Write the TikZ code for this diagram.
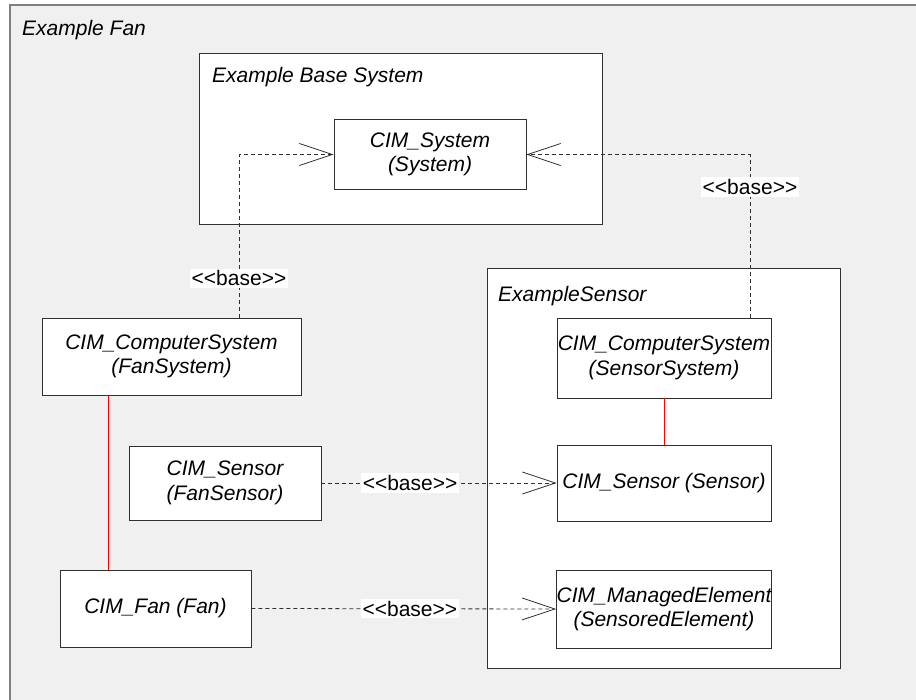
\documentclass[tikz,border=0pt]{standalone}
\usepackage{fontspec}
\setmainfont{Liberation Sans}
\usetikzlibrary{arrows.meta}
\definecolor{bggray}{HTML}{F0F0F0}
\definecolor{framegray}{HTML}{808080}
\definecolor{boxline}{HTML}{303030}
\newcommand{\basetxt}{\mbox{<}\mbox{<}base\mbox{>}\mbox{>}}
\tikzset{
  cls/.style={draw=boxline, fill=white, line width=0.9pt, align=center, inner sep=0pt,
    font=\fontsize{21}{24.5}\selectfont\itshape},
  container/.style={draw=boxline, fill=white, line width=0.9pt, inner sep=0pt},
  title/.style={anchor=west, inner sep=0pt, font=\fontsize{21}{24.5}\selectfont\itshape},
  dep/.style={draw=boxline, line width=0.8pt, dash pattern=on 4pt off 3pt,
    -{Straight Barb[length=33pt, width=22pt, line width=0.8pt]}},
  lbl/.style={fill=white, inner sep=2pt, font=\fontsize{21}{24.5}\selectfont},
  assoc/.style={draw=red, line width=0.8pt}
}
\begin{document}
\begin{tikzpicture}[x=1pt, y=-1pt]
\useasboundingbox (0,0) rectangle (916,700);
% outer frame
\draw[fill=bggray, draw=framegray, line width=1.5pt] (10,5) rectangle (930,720);
\node[title] (fantitle) at (22,30) {Example Fan};
% Example Base System
\node[container, minimum width=403, minimum height=171] (basesys) at (400.5,138.5) {};
\node[title] (basetitle) at (212,77) {Example Base System};
\node[cls, minimum width=192, minimum height=70] (sys) at (430,154.5) {CIM\_System\\(System)};
% ExampleSensor container
\node[container, minimum width=353, minimum height=400] (sensorbox) at (663.5,468) {};
\node[title] (sensortitle) at (498,296) {ExampleSensor};
\node[cls, minimum width=214, minimum height=80] (senssys) at (664,358) {CIM\_ComputerSystem\\(SensorSystem)};
\node[cls, minimum width=214, minimum height=76] (sens) at (664,483) {CIM\_Sensor (Sensor)};
\node[cls, minimum width=214, minimum height=78] (me) at (664,609) {CIM\_ManagedElement\\(SensoredElement)};
% Fan side
\node[cls, minimum width=259, minimum height=77] (fansys) at (171.5,356.5) {CIM\_ComputerSystem\\(FanSystem)};
\node[cls, minimum width=192, minimum height=74] (fansens) at (225,483) {CIM\_Sensor\\(FanSensor)};
\node[cls, minimum width=191, minimum height=77] (fan) at (155.5,608.5) {CIM\_Fan (Fan)};
% associations
\draw[assoc] ([xshift=-63.5pt]fansys.south) -- ([xshift=-63.5pt]fansys.south |- fan.north);
\draw[assoc] (senssys.south) -- (sens.north);
% dependencies
\draw[dep] ([xshift=67.5pt]fansys.north) |- node[lbl, pos=0.12] (b1) {\basetxt} (sys.west);
\draw[dep] ([xshift=86pt]senssys.north) |- node[lbl, pos=0.40] (b2) {\basetxt} (sys.east);
\draw[dep] (fansens.east) -- node[lbl, pos=0.377] (b3) {\basetxt} (sens.west);
\draw[dep] (fan.east) -- node[lbl, pos=0.52] (b4) {\basetxt} (me.west);
\end{tikzpicture}
\end{document}
